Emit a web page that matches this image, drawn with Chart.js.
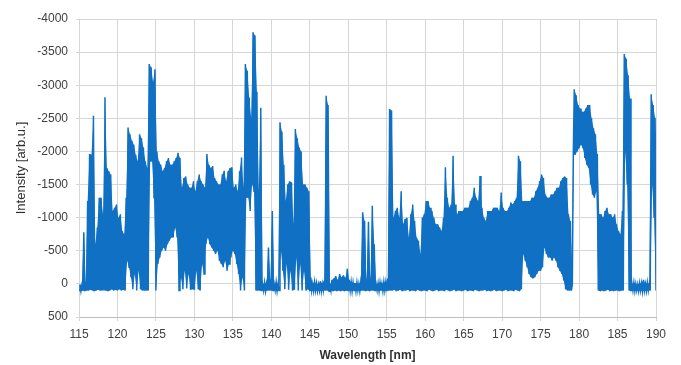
<!DOCTYPE html>
<html>
<head>
<meta charset="utf-8">
<script src="https://cdn.jsdelivr.net/npm/chart.js@4"></script>
<style>
  html, body { margin: 0; padding: 0; background: #fff; }
</style>
</head>
<body>
<canvas id="myChart" width="681" height="365"></canvas>
<script>
// sampling of the spectrum: one envelope pair every 0.25 nm from 115 nm
const wlStart = 115;
const wlStep = 0.25;

// most negative value (upper edge of the trace) in each 0.25 nm bin
const peak = [
  10, 20, -780, 20, -1250, -1960, -1950, -2540, -600, -850, -1300, -1300, -1050, -2820, -1750, -1700, -1650, -1100, -1150, -1200,
  -1000, -1050, -800, -750, -1300, -2360, -2260, -2160, -2100, -1950, -1850, -2260, -2200, -2060, -1850, -1750, -3320, -3270, -3050, -3240,
  -2000, -1850, -1800, -1700, -1750, -1850, -1900, -1800, -1800, -1850, -1900, -1980, -1900, -1450, -1600, -1620, -1500, -1450, -1450, -1550,
  -1400, -1550, -1650, -1550, -1500, -1450, -1960, -1800, -1750, -1780, -1600, -1550, -1500, -1500, -1650, -1710, -1550, -1700, -1750, -1760,
  -1450, -1500, -1400, -1700, -1910, -1450, -3320, -3220, -2815, -2500, -3800, -3750, -2900, -1400, -2660, 10, -20, 0, -550, -10,
  -1100, 10, -30, 0, -2440, -2300, -1800, -1250, -1500, -1550, -1530, -900, -2340, -2200, -2060, -2000, -1500, -1500, -1450, -1400,
  -100, 0, -30, -10, 10, -40, 0, -50, -2840, -2700, 10, -60, -80, -120, -60, -150, -100, -130, -90, -230,
  -60, -30, -20, -10, -20, 0, -30, -1080, -950, -10, -940, -20, -1180, -600, 10, -10, -20, 0, -30, -20,
  -80, -2640, -2620, -1000, -1100, -1150, -1000, -1400, -900, -980, -1000, -700, -1050, -1200, -950, -700, -650, -450, -1000, -1050,
  -1250, -1250, -1150, -1100, -1000, -900, -900, -850, -800, -1000, -1760, -1300, -1150, -1200, -1935, -1200, -1050, -1100, -1100, -1100,
  -1150, -1150, -1150, -1250, -1300, -1450, -1300, -1250, -1630, -1150, -1000, -950, -1100, -1100, -1100, -1150, -1150, -1150, -1100, -1380,
  -1150, -1100, -1100, -1150, -1230, -1200, -1250, -1300, -1935, -1850, -1250, -1250, -1250, -1250, -1250, -1300, -1300, -1400, -1450, -1550,
  -1650, -1600, -1350, -1300, -1300, -1350, -1350, -1400, -1450, -1450, -1550, -1600, -1620, -1600, -1050, -950, 10, -2940, -2850, -2700,
  -2650, -2600, -2600, -2650, -2700, -2700, -2500, -2350, -2260, -1960, -1050, -1050, -1000, -1100, -1150, -1050, -1050, -1000, -1050, -900,
  -800, -750, -1100, -3470, -3400, -3150, -2800, 0, -20, 0, 10, -10, -10, -60, 0, -20, 0, -2865, -2700, -2510,
  -1900
];

// least negative value (lower edge of the trace) in each bin
const base = [
  100, 110, 100, 110, 100, 100, 90, 100, 110, 100, 90, 100, 100, 90, 100, 110, 100, 80, 100, 90,
  100, 80, 100, 90, 100, -350, -250, -100, 80, -150, 100, -200, 80, 100, 100, 100, 100, -1850, -1850, -1300,
  100, -300, -400, -500, -550, -500, -600, -650, -700, -700, -850, -700, 100, -100, 80, -200, 70, -150, 90, 80,
  90, -200, 80, 100, -300, -150, -600, -700, -600, -550, -500, -450, -500, -350, -300, -250, -350, -200, -300, -400,
  -500, -450, -300, -150, 100, -100, 100, -1300, -1300, -1100, -1500, -1400, 100, 100, 100, 110, 100, 110, 100, 100,
  100, 110, 100, 110, 100, -500, -200, 80, -300, 90, -200, 100, 90, -400, 100, -300, 100, -200, 100, 80,
  110, 100, 110, 100, 110, 100, 110, 100, 100, 100, 110, 100, 110, 100, 110, 100, 110, 100, 110, 100,
  110, 100, 110, 100, 110, 100, 110, 100, 100, 110, 100, 110, 100, 100, 110, 100, 110, 100, 110, 100,
  110, 100, 100, 100, 90, 110, 100, 90, 110, 100, 100, 90, 110, 100, 100, 110, 90, 100, 110, 100,
  100, 110, 90, 100, 110, 100, 90, 110, 100, 100, 110, 90, 100, 110, 100, 90, 110, 100, 100, 110,
  100, 90, 110, 100, 100, 110, 90, 100, 110, 100, 100, 90, 110, 100, 110, 100, 90, 110, 100, 100,
  110, 100, 90, 110, 100, 100, 110, 90, 100, 110, 80, -450, -350, -250, -150, -100, -80, -100, -150, -200,
  -200, -250, -550, -450, -400, -400, -350, -400, -350, -250, -200, -150, -50, 80, 100, 100, 100, -1950, -1950, -2000,
  -2050, -2100, -2050, -1900, -1800, -1750, -1500, -1350, -1300, -1400, 100, 110, 100, 110, 100, 90, 110, 100, 110, 100,
  100, 110, 100, 100, -2000, -1500, 100, 110, 100, 110, 100, 110, 100, 110, 100, 110, 100, 100, -1500, -1000,
  100
];

const textColor = "#404040";
const gridColor = "#d6d6d6";
const lineColor = "#1070c4";

// upper and lower edges, plus the trace that swings between them in every bin
const upper = [];
const lower = [];
const trace = [];
base.forEach((b, i) => {
  const x = wlStart + i * wlStep;
  upper.push({ x: x + wlStep / 2, y: peak[i] });
  lower.push({ x: x, y: b });
  trace.push({ x: x, y: b });
  trace.push({ x: x + wlStep / 2, y: peak[i] });
});

const fontFamily = "Liberation Sans, Arial, sans-serif";

var ctx = document.getElementById("myChart").getContext("2d");
var chart = new Chart(ctx, {
  type: "line",
  data: {
    datasets: [
      {
        // filled band between the two edges
        data: upper,
        borderWidth: 0,
        pointRadius: 0,
        tension: 0,
        backgroundColor: lineColor,
        fill: "+1",
      },
      {
        data: lower,
        borderWidth: 0,
        pointRadius: 0,
        tension: 0,
        fill: false,
      },
      {
        data: trace,
        borderColor: lineColor,
        borderWidth: 1.5,
        pointRadius: 0,
        tension: 0,
        fill: false,
      },
    ],
  },
  options: {
    responsive: false,
    animation: false,
    layout: { padding: { top: 19, right: 25, bottom: 0, left: 0 } },
    plugins: { legend: { display: false }, tooltip: { enabled: false } },
    scales: {
      x: {
        type: "linear",
        min: 115,
        max: 190,
        ticks: { stepSize: 5, padding: 6, color: textColor, font: { family: fontFamily, size: 12 }, maxRotation: 0 },
        grid: { color: gridColor, tickLength: 4 },
        border: { color: "#bdbdbd" },
        title: {
          display: true,
          text: "Wavelength [nm]",
          color: "#303030",
          font: { family: fontFamily, size: 12, weight: "bold" },
          padding: { top: 0, bottom: 2 },
        },
        afterFit: (s) => { s.height = 48; },
      },
      y: {
        type: "linear",
        reverse: true,
        min: -4000,
        max: 500,
        ticks: { stepSize: 500, padding: 8, color: textColor, font: { family: fontFamily, size: 12 }, callback: (v) => String(v) },
        grid: { color: gridColor, tickLength: 3 },
        border: { color: gridColor },
        title: {
          display: true,
          text: "Intensity [arb.u.]",
          color: "#303030",
          font: { family: fontFamily, size: 13 },
          padding: { top: 14, bottom: 0 },
        },
        afterFit: (s) => { s.width = 79; },
      },
    },
  },
});
</script>
</body>
</html>
